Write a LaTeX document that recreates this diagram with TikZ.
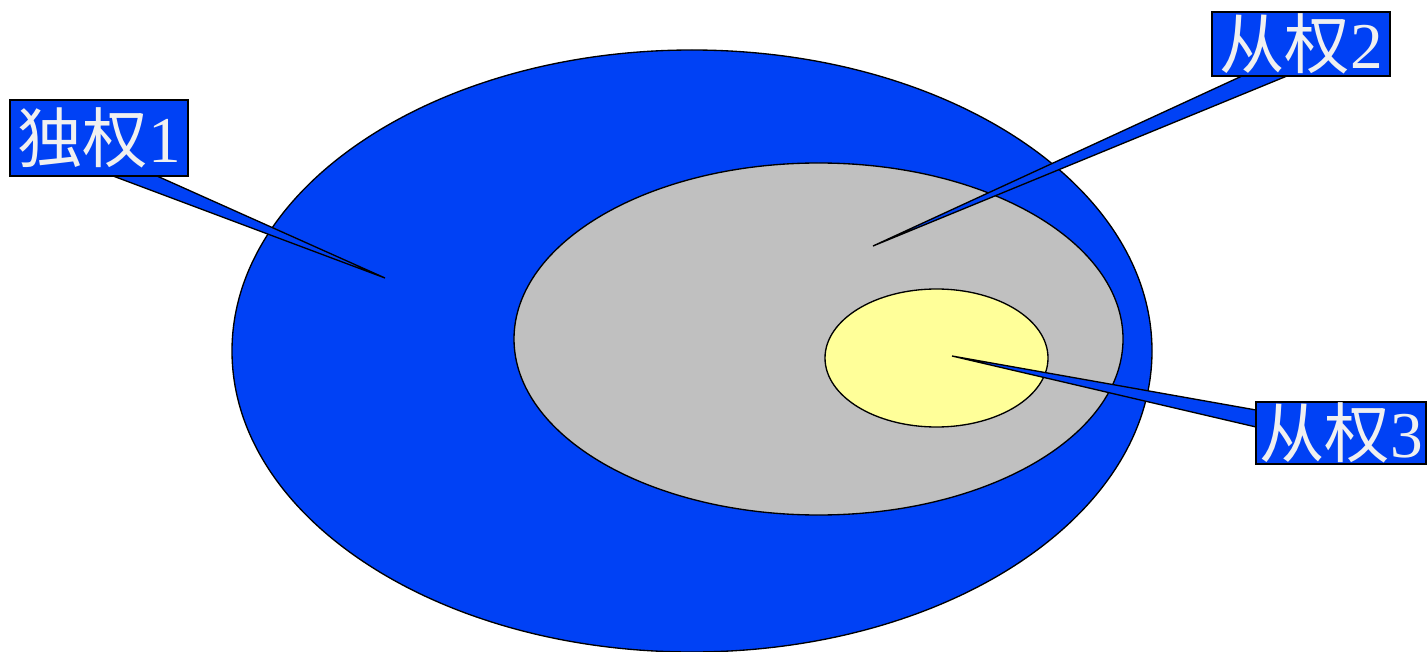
\documentclass[tikz,border=0pt]{standalone}
\usepackage{fontspec}
\newfontfamily\cjk{Noto Sans CJK SC}
\newfontfamily\digitfont{Liberation Serif}
\usetikzlibrary{shapes.geometric}
\definecolor{cblue}{RGB}{0,65,245}
\definecolor{cgray}{RGB}{192,192,192}
\definecolor{cyellow}{RGB}{255,255,153}
\definecolor{ctext}{RGB}{240,240,240}
\tikzset{
  region/.style={ellipse, draw=black, line width=1pt, inner sep=0pt},
  labelbox/.style={rectangle, draw=black, line width=1.1pt, fill=cblue, inner sep=0pt,
    text=ctext, font=\fontsize{49}{49}\selectfont\cjk},
  wedge/.style={draw=black, line width=1pt, fill=cblue, line join=miter},
}
\begin{document}
\begin{tikzpicture}[x=0.75pt,y=-0.75pt]
\useasboundingbox (0,0) rectangle (1427,652);
% regions
\node[region, fill=cblue, minimum width=690pt, minimum height=451.5pt] (outer) at (692,351) {};
\node[region, fill=cgray, minimum width=456.75pt, minimum height=264pt] (middle) at (818.5,339) {};
\node[region, fill=cyellow, minimum width=167.25pt, minimum height=103.5pt] (inner) at (936.5,358) {};
% callout points
\coordinate (w1a) at (113,176);
\coordinate (w1b) at (157,176);
\coordinate (t1) at (385,278);
\coordinate (w2a) at (1242,76);
\coordinate (w2b) at (1287,76);
\coordinate (t2) at (873,246);
\coordinate (w3a) at (1256,410);
\coordinate (w3b) at (1256,427);
\coordinate (t3) at (952,356);
\draw[wedge] (w1a) -- (t1) -- (w1b) -- cycle;
\draw[wedge] (w2a) -- (t2) -- (w2b) -- cycle;
\draw[wedge] (w3a) -- (t3) -- (w3b) -- cycle;
% labels
\node[labelbox, minimum width=133.5pt, minimum height=57pt] (l1) at (99,138) {独权{\digitfont 1}};
\node[labelbox, minimum width=133.5pt, minimum height=48pt] (l2) at (1301,44) {从权{\digitfont 2}};
\node[labelbox, minimum width=127.5pt, minimum height=46.5pt] (l3) at (1341,433) {从权{\digitfont 3}};
\end{tikzpicture}
\end{document}
